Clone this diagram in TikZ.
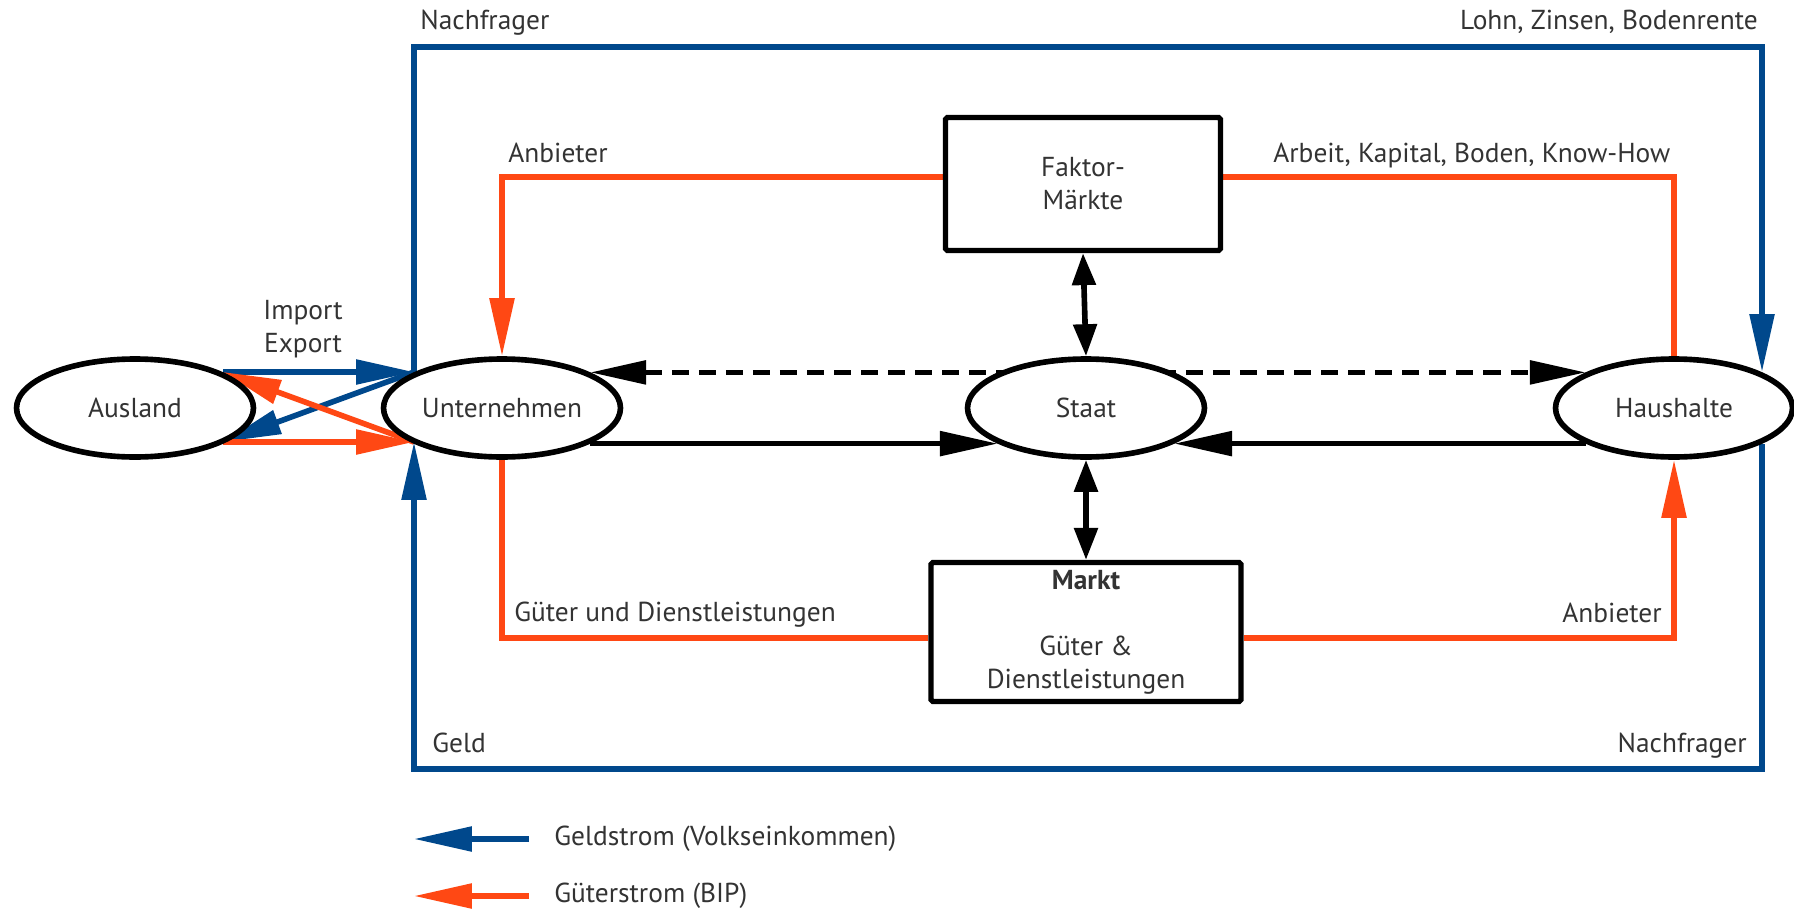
\documentclass[tikz,border=0pt]{standalone}
\usepackage{fontspec}
\setmainfont{PT Sans}
\usetikzlibrary{arrows.meta,shapes.geometric,backgrounds}
\definecolor{geldblau}{RGB}{0,72,140}
\definecolor{gueterrot}{RGB}{255,72,20}
\definecolor{textgrau}{RGB}{51,51,51}
\begin{document}
\begin{tikzpicture}[x=0.02cm,y=-0.02cm,
        txt/.style={text=textgrau,font=\fontsize{15.6}{18.8}\selectfont,inner sep=0pt},
        sektor/.style={ellipse,draw,line width=3.2pt,fill=white,minimum width=4.74cm,minimum height=1.96cm,txt},
        box/.style={rectangle,draw,line width=3pt,rounded corners=1pt,fill=white,align=center,txt},
        geld/.style={geldblau,line width=3.2pt},
        gut/.style={gueterrot,line width=3.2pt},
        fluss/.style={black,line width=3.2pt},
        pfeil/.style={-{Triangle[length=1.16cm,width=0.48cm]}},
        pfeile/.style={{Triangle[length=1.12cm,width=0.46cm]}-{Triangle[length=1.12cm,width=0.46cm]}},
        kurz/.style={{Triangle[length=0.64cm,width=0.46cm]}-{Triangle[length=0.64cm,width=0.46cm]}}]
                \useasboundingbox (0,0) rectangle (1794,909);

                \node[sektor] (ausland) at (135,408) {Ausland};
                \node[sektor] (unternehmen) at (502,408) {Unternehmen};
                \node[sektor] (staat) at (1086,408) {Staat};
                \node[sektor] (haushalte) at (1674,408) {Haushalte};
                \node[box,minimum width=5.5cm,minimum height=2.66cm] (faktor) at (1083,184) {Faktor-\\Märkte};
                \node[box,minimum width=6.2cm,minimum height=2.78cm] (markt) at (1086,632) {\textbf{Markt}\\~\\Güter \&\\Dienstleistungen};

                \coordinate (uin) at (414,372);
                \coordinate (uout) at (414,442);
                \coordinate (ain) at (ausland.22 |- uin);
                \coordinate (aout) at (ausland.-22 |- uout);
                \coordinate (nw) at (414,47);
                \coordinate (ne) at (1762,47);
                \coordinate (se) at (1762,769);
                \coordinate (sw) at (414,769);
                \coordinate (hin) at (1762,372);
                \coordinate (hout) at (1762,444);

                \begin{pgfonlayer}{background}
                \draw [geld,pfeil] (uin) -- (nw) -- (ne) -- (hin);
                \draw [geld,pfeil] (hout) -- (se) -- (sw) -- (uout);
                \draw [geld,pfeil] (ain) -- (uin);
                \draw [geld,pfeil] (uin) -- (aout);
                \draw [gut,pfeil] (aout) -- (uout);
                \draw [gut,pfeil] (uout) -- (ain);

                \draw [gut,pfeil] ([yshift=4pt]faktor.west) -| (unternehmen.north);
                \draw [gut] ([yshift=4pt]faktor.east) -| (haushalte.north);
                \draw [gut] (unternehmen.south) |- ([yshift=-3.4pt]markt.west);
                \draw [gut,pfeil] ([yshift=-3.4pt]markt.east) -| (haushalte.south);

                \draw [fluss,pfeile,dash pattern=on 9.7pt off 5.7pt] (unternehmen.22) -- (haushalte.158);
                \draw [fluss,pfeil] (unternehmen.-22) -- (staat.-158);
                \draw [fluss,pfeil] (haushalte.-158) -- (staat.-22);
                \draw [fluss,kurz] (faktor.south) -- (staat.north);
                \draw [fluss,kurz] (staat.south) -- (markt.north);
                \end{pgfonlayer}

                \node[txt,anchor=base west] (nachfrageroben) at (420,30) {Nachfrager};
                \node[txt,anchor=base east] (lohn) at (1758,30) {Lohn, Zinsen, Bodenrente};
                \node[txt,anchor=base west] (anbieterlinks) at (508,162) {Anbieter};
                \node[txt,anchor=base west] (arbeit) at (1273,162) {Arbeit, Kapital, Boden, Know-How};
                \node[txt,align=center] (import) at (303,329) {Import\\Export};
                \node[txt,anchor=base west] (gueter) at (514,621) {Güter und Dienstleistungen};
                \node[txt,anchor=base east] (anbieterrechts) at (1662,622) {Anbieter};
                \node[txt,anchor=base west] (geldtext) at (432,752) {Geld};
                \node[txt,anchor=base east] (nachfragerunten) at (1747,752) {Nachfrager};

                \coordinate (lga) at (529,839);
                \coordinate (lgb) at (414,839);
                \coordinate (lra) at (529,896);
                \coordinate (lrb) at (414,896);
                \draw [geld,pfeil] (lga) -- (lgb);
                \draw [gut,pfeil] (lra) -- (lrb);
                \node[txt,anchor=west] (geldstrom) at (554,839) {Geldstrom (Volkseinkommen)};
                \node[txt,anchor=west] (gueterstrom) at (554,896) {Güterstrom (BIP)};
\end{tikzpicture}
\end{document}
